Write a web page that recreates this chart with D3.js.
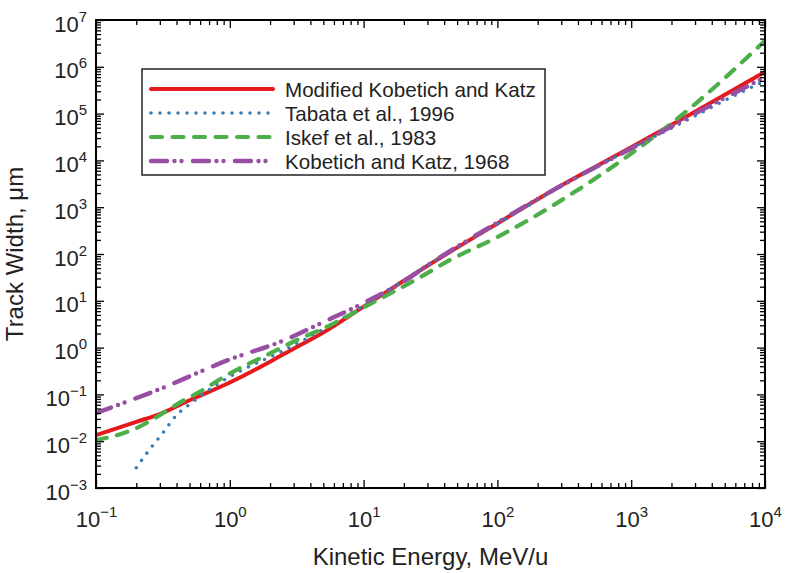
<!DOCTYPE html>
<html>
<head>
<meta charset="utf-8">
<script src="https://cdn.jsdelivr.net/npm/d3@7/dist/d3.min.js"></script>
<style>
  html, body { margin: 0; padding: 0; background: #fff; }
  svg { display: block; font-family: "Liberation Sans", Arial, Helvetica, sans-serif; }
</style>
</head>
<body>
<svg id="chart" width="785" height="573"></svg>
<script>
// ---- data ----
const energyRed   = [0.1, 0.2, 0.3, 0.5, 1, 2, 3, 5, 10, 20, 30, 100, 300, 1000, 3000, 10000];
const widthRed    = [0.0135, 0.026, 0.038, 0.075, 0.18, 0.5, 0.95, 2.1, 7.5, 27, 56, 450, 2900, 1.9e4, 1.1e5, 7.8e5];

const energyBlue  = [0.2, 0.25, 0.316, 0.4, 0.53, 0.82, 1.13, 2.4, 4.2, 10, 30, 100, 300, 1000, 2600, 5500, 10000];
const widthBlue   = [0.0027, 0.0065, 0.015, 0.036, 0.069, 0.17, 0.29, 0.81, 1.86, 7.8, 57, 440, 2800, 1.8e4, 7.2e4, 2.2e5, 5.0e5];

const energyGreen = [0.1, 0.2, 0.3, 0.42, 0.6, 1, 2, 3, 5.6, 10, 26, 44, 100, 300, 1000, 1730, 3000, 10000];
const widthGreen  = [0.0105, 0.019, 0.036, 0.066, 0.115, 0.28, 0.75, 1.35, 3.0, 7.2, 31, 74, 230, 1400, 1.4e4, 4.5e4, 1.6e5, 3.6e6];

const energyPurple = [0.1, 0.3, 1, 2.5, 5, 10, 20, 30, 100, 300, 1000, 3000, 10000];
const widthPurple  = [0.04, 0.13, 0.56, 1.4, 3.5, 9, 26, 57, 470, 2900, 1.8e4, 1.0e5, 6.0e5];

const seriesNames = ["Modified Kobetich and Katz", "Tabata et al., 1996", "Iskef et al., 1983", "Kobetich and Katz, 1968"];
const xTickExponents = [-1, 0, 1, 2, 3, 4];
const yTickExponents = [-3, -2, -1, 0, 1, 2, 3, 4, 5, 6, 7];
const xTitle = "Kinetic Energy, MeV/u";
const yTitle = "Track Width, \u03bcm";

// ---- styles ----
const colors = ["#e41a1c", "#377eb8", "#4daf4a", "#984ea3"];
const widths = [4, 3.6, 4.2, 4.4];
const dashes = [null, "0,9", "11,10.5", "16,7.5,0,7,0,11.5"];

const series = [
  { name: seriesNames[0], pts: energyRed.map((e, i) => [e, widthRed[i]]) },
  { name: seriesNames[1], pts: energyBlue.map((e, i) => [e, widthBlue[i]]) },
  { name: seriesNames[2], pts: energyGreen.map((e, i) => [e, widthGreen[i]]) },
  { name: seriesNames[3], pts: energyPurple.map((e, i) => [e, widthPurple[i]]) }
];

// ---- layout ----
const L = 96, R = 765, T = 20, B = 488;
const svg = d3.select("#chart");

const x = d3.scaleLog().domain([0.1, 1e4]).range([L, R]);
const y = d3.scaleLog().domain([1e-3, 1e7]).range([B, T]);

function minors(lo, hi) {
  const out = [];
  for (let e = lo; e < hi; e++) for (let m = 2; m <= 9; m++) out.push(m * Math.pow(10, e));
  return out;
}
const xMajor = xTickExponents.map(e => Math.pow(10, e));
const yMajor = yTickExponents.map(e => Math.pow(10, e));
const xMinor = minors(-1, 4);
const yMinor = minors(-3, 7);

// ---- clip ----
svg.append("defs").append("clipPath").attr("id", "clip")
  .append("rect").attr("x", L).attr("y", T).attr("width", R - L).attr("height", B - T);

// ---- lines ----
const line = d3.line().x(d => x(d[0])).y(d => y(d[1])).curve(d3.curveMonotoneX);
const gLines = svg.append("g").attr("clip-path", "url(#clip)");
series.forEach((s, i) => {
  const p = gLines.append("path")
    .attr("d", line(s.pts))
    .attr("fill", "none")
    .attr("stroke", colors[i])
    .attr("stroke-width", widths[i])
    .attr("stroke-linecap", "round")
    .attr("stroke-linejoin", "round");
  if (dashes[i]) p.attr("stroke-dasharray", dashes[i]);
});

// ---- axes (ticks inward on all four sides) ----
function tickAxis(axisFn, scale, vals, size, transform) {
  svg.append("g").attr("transform", transform)
    .call(axisFn(scale).tickValues(vals).tickSizeInner(-size).tickSizeOuter(0).tickFormat(""))
    .call(g => g.select(".domain").remove())
    .call(g => g.selectAll("line").attr("stroke", "#000").attr("stroke-width", 1.3));
}
tickAxis(d3.axisBottom, x, xMajor, 8, `translate(0,${B})`);
tickAxis(d3.axisBottom, x, xMinor, 5, `translate(0,${B})`);
tickAxis(d3.axisTop, x, xMajor, 8, `translate(0,${T})`);
tickAxis(d3.axisTop, x, xMinor, 5, `translate(0,${T})`);
tickAxis(d3.axisLeft, y, yMajor, 8, `translate(${L},0)`);
tickAxis(d3.axisLeft, y, yMinor, 5, `translate(${L},0)`);
tickAxis(d3.axisRight, y, yMajor, 8, `translate(${R},0)`);
tickAxis(d3.axisRight, y, yMinor, 5, `translate(${R},0)`);

// frame
svg.append("rect").attr("x", L).attr("y", T).attr("width", R - L).attr("height", B - T)
  .attr("fill", "none").attr("stroke", "#000").attr("stroke-width", 2);

// ---- tick labels ----
function expText(e) { return e < 0 ? "\u2212" + Math.abs(e) : String(e); }

const xLab = svg.append("g").attr("transform", `translate(0,${B})`)
  .call(d3.axisBottom(x).tickValues(xMajor).tickSize(0).tickFormat(""));
xLab.select(".domain").remove();
xLab.selectAll(".tick text").each(function(d) {
  const t = d3.select(this).attr("y", 39).attr("dy", null)
    .attr("text-anchor", "middle").attr("fill", "#222");
  const e = Math.round(Math.log10(d));
  t.append("tspan").attr("font-size", 22).text("10");
  t.append("tspan").attr("font-size", 15).attr("dy", -10).text(expText(e));
});

const yLab = svg.append("g").attr("transform", `translate(${L},0)`)
  .call(d3.axisLeft(y).tickValues(yMajor).tickSize(0).tickFormat(""));
yLab.select(".domain").remove();
yLab.selectAll(".tick text").each(function(d) {
  const t = d3.select(this).attr("x", -9).attr("dy", null).attr("y", 11)
    .attr("text-anchor", "end").attr("fill", "#222");
  const e = Math.round(Math.log10(d));
  t.append("tspan").attr("font-size", 22).text("10");
  t.append("tspan").attr("font-size", 15).attr("dy", -10).text(expText(e));
});

// ---- axis titles ----
svg.append("text").attr("x", (L + R) / 2).attr("y", 565)
  .attr("text-anchor", "middle").attr("font-size", 24).attr("fill", "#222").text(xTitle);
svg.append("text").attr("transform", `translate(23,${(T + B) / 2}) rotate(-90)`)
  .attr("text-anchor", "middle").attr("font-size", 24).attr("fill", "#222").text(yTitle);

// ---- legend ----
const lg = svg.append("g");
lg.append("rect").attr("x", 142).attr("y", 69).attr("width", 403).attr("height", 106)
  .attr("fill", "#fff").attr("stroke", "#222").attr("stroke-width", 1.5);
seriesNames.forEach((name, i) => {
  const yy = 89 + i * 24;
  const p = lg.append("line").attr("x1", 151).attr("x2", 273).attr("y1", yy).attr("y2", yy)
    .attr("stroke", colors[i]).attr("stroke-width", widths[i]).attr("stroke-linecap", "round");
  if (dashes[i]) p.attr("stroke-dasharray", dashes[i]);
  lg.append("text").attr("x", 285).attr("y", yy + 7.5).attr("font-size", 20.6)
    .attr("fill", "#222").text(name);
});
</script>
</body>
</html>
